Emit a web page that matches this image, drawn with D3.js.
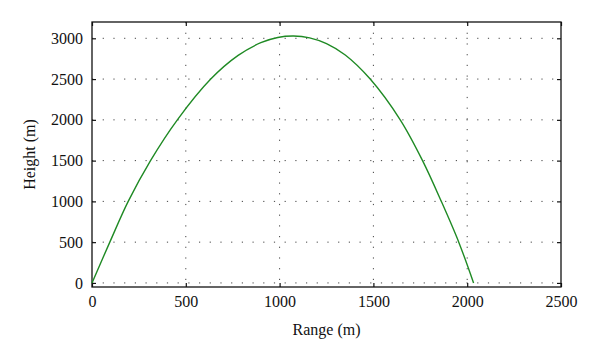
<!DOCTYPE html>
<html>
<head>
<meta charset="utf-8">
<script src="https://cdn.jsdelivr.net/npm/d3@7"></script>
<style>
  body { margin: 0; background: #fff; }
  text { font-family: "Liberation Serif", "DejaVu Serif", serif; fill: #111; }
</style>
</head>
<body>
<div id="viz"></div>
<script>
// trajectory
const rangeM = [0, 95, 193, 312, 455, 633, 779, 900, 990, 1074, 1160, 1250, 1350, 1483, 1643, 1762, 1862, 1955, 2034]
const heightM = [0, 500, 1000, 1500, 2000, 2500, 2790, 2946, 3010, 3028, 3006, 2935, 2795, 2500, 2000, 1500, 1000, 500, 0]

const xTicks = [0, 500, 1000, 1500, 2000, 2500]
const yTicks = [0, 500, 1000, 1500, 2000, 2500, 3000]

const width = 600, height = 363
const margin = {top: 22, right: 39, bottom: 76, left: 92}
const w = width - margin.left - margin.right
const h = height - margin.top - margin.bottom

const svg = d3.select("#viz").append("svg").attr("width", width).attr("height", height)
const g = svg.append("g").attr("transform", `translate(${margin.left},${margin.top})`)

const x = d3.scaleLinear().domain([0, 2500]).range([0, w])
const y = d3.scaleLinear().domain([-50, 3200]).range([h, 0])

// dotted grid
g.selectAll(".gx")
  .data(xTicks.slice(1, -1))
  .enter()
  .append("line")
  .attr("x1", d => x(d)).attr("x2", d => x(d))
  .attr("y1", 0).attr("y2", h)
  .attr("stroke", "#444")
  .attr("stroke-width", 1)
  .attr("stroke-dasharray", "1.2,9.5")

g.selectAll(".gy")
  .data(yTicks)
  .enter()
  .append("line")
  .attr("x1", 0).attr("x2", w)
  .attr("y1", d => y(d)).attr("y2", d => y(d))
  .attr("stroke", "#444")
  .attr("stroke-width", 1)
  .attr("stroke-dasharray", "1.2,9.5")

// axes, ticks pointing inward, mirrored on top and right
const axisStyle = sel => {
  sel.attr("font-family", '"Liberation Serif", serif').attr("font-size", 16)
  sel.select(".domain").remove()
  sel.selectAll(".tick line").attr("stroke", "#111").attr("stroke-width", 1.2)
  sel.selectAll("text").attr("fill", "#111")
}

const fmt = d3.format("d")

g.append("g")
  .attr("transform", `translate(0,${h})`)
  .call(d3.axisBottom(x).tickValues(xTicks).tickSize(-4).tickPadding(9).tickFormat(fmt))
  .call(axisStyle)

g.append("g")
  .call(d3.axisTop(x).tickValues(xTicks).tickSize(-4).tickFormat(""))
  .call(axisStyle)

g.append("g")
  .call(d3.axisLeft(y).tickValues(yTicks).tickSize(-4).tickPadding(9).tickFormat(fmt))
  .call(axisStyle)

g.append("g")
  .attr("transform", `translate(${w},0)`)
  .call(d3.axisRight(y).tickValues(yTicks).tickSize(-4).tickFormat(""))
  .call(axisStyle)

g.append("rect")
  .attr("width", w).attr("height", h)
  .attr("fill", "none")
  .attr("stroke", "#111")
  .attr("stroke-width", 1.3)

// curve
const pts = rangeM.map((r, i) => ({r: r, hgt: heightM[i]}))
const line = d3.line()
  .x(d => x(d.r))
  .y(d => y(d.hgt))
  .curve(d3.curveCatmullRom.alpha(0.5))

g.append("path")
  .datum(pts)
  .attr("d", line)
  .attr("fill", "none")
  .attr("stroke", "#1f8a24")
  .attr("stroke-width", 1.4)

// axis titles
svg.append("text")
  .attr("x", margin.left + w / 2)
  .attr("y", 335)
  .attr("text-anchor", "middle")
  .style("font-size", "16px")
  .text("Range (m)")

svg.append("text")
  .attr("transform", `translate(35,${margin.top + h / 2}) rotate(-90)`)
  .attr("text-anchor", "middle")
  .style("font-size", "16px")
  .text("Height (m)")
</script>
</body>
</html>
